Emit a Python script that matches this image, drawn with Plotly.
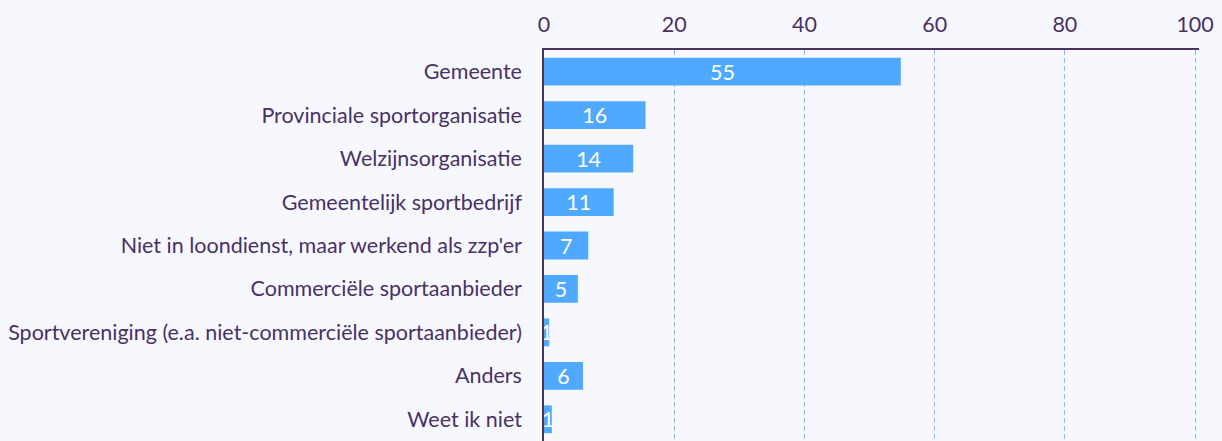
import plotly.graph_objects as go

categories = [
    "Gemeente",
    "Provinciale sportorganisatie",
    "Welzijnsorganisatie",
    "Gemeentelijk sportbedrijf",
    "Niet in loondienst, maar werkend als zzp'er",
    "Commerciële sportaanbieder",
    "Sportvereniging (e.a. niet-commerciële sportaanbieder)",
    "Anders",
    "Weet ik niet",
]
values = [54.8, 15.6, 13.7, 10.7, 6.8, 5.2, 0.8, 6.0, 1.2]
tick_vals = [0, 20, 40, 60, 80, 100]

TEXT = "#4a3163"
BAR = "#4fa9ff"
BG = "#f6f8fe"
GRID = "#6ec6fb"
FS = 21.5

fig = go.Figure(
    go.Bar(
        y=categories,
        x=values,
        orientation="h",
        marker=dict(color=BAR, line=dict(width=0)),
        width=0.64,
        text=[f"{v:.0f}" for v in values],
        textposition="inside",
        insidetextanchor="middle",
        textangle=0,
        constraintext="none",
        textfont=dict(color="white", size=FS, family="Lato"),
        cliponaxis=False,
        hoverinfo="skip",
    )
)

fig.update_layout(
    width=1222,
    height=441,
    margin=dict(l=544, r=23, t=50, b=0),
    paper_bgcolor=BG,
    plot_bgcolor=BG,
    font=dict(family="Lato", color=TEXT, size=FS),
    showlegend=False,
)

fig.update_xaxes(
    side="top",
    range=[0, 100.6],
    tickvals=tick_vals,
    showgrid=True,
    gridcolor=GRID,
    griddash="5px,3px",
    gridwidth=1.2,
    zeroline=False,
    showline=True,
    linecolor=TEXT,
    linewidth=1.5,
    ticks="",
    ticklabelstandoff=8,
    tickfont=dict(size=FS, color=TEXT, family="Lato"),
    fixedrange=True,
)
fig.update_yaxes(
    autorange="reversed",
    showgrid=False,
    zeroline=False,
    showline=True,
    linecolor=TEXT,
    linewidth=1.5,
    ticks="",
    ticklabelstandoff=16,
    tickfont=dict(size=FS, color=TEXT, family="Lato"),
    fixedrange=True,
)

fig.write_html(
    "out.html",
    config={"displayModeBar": False},
    post_script="document.body.style.margin='0';document.body.style.background='" + BG + "';",
)
